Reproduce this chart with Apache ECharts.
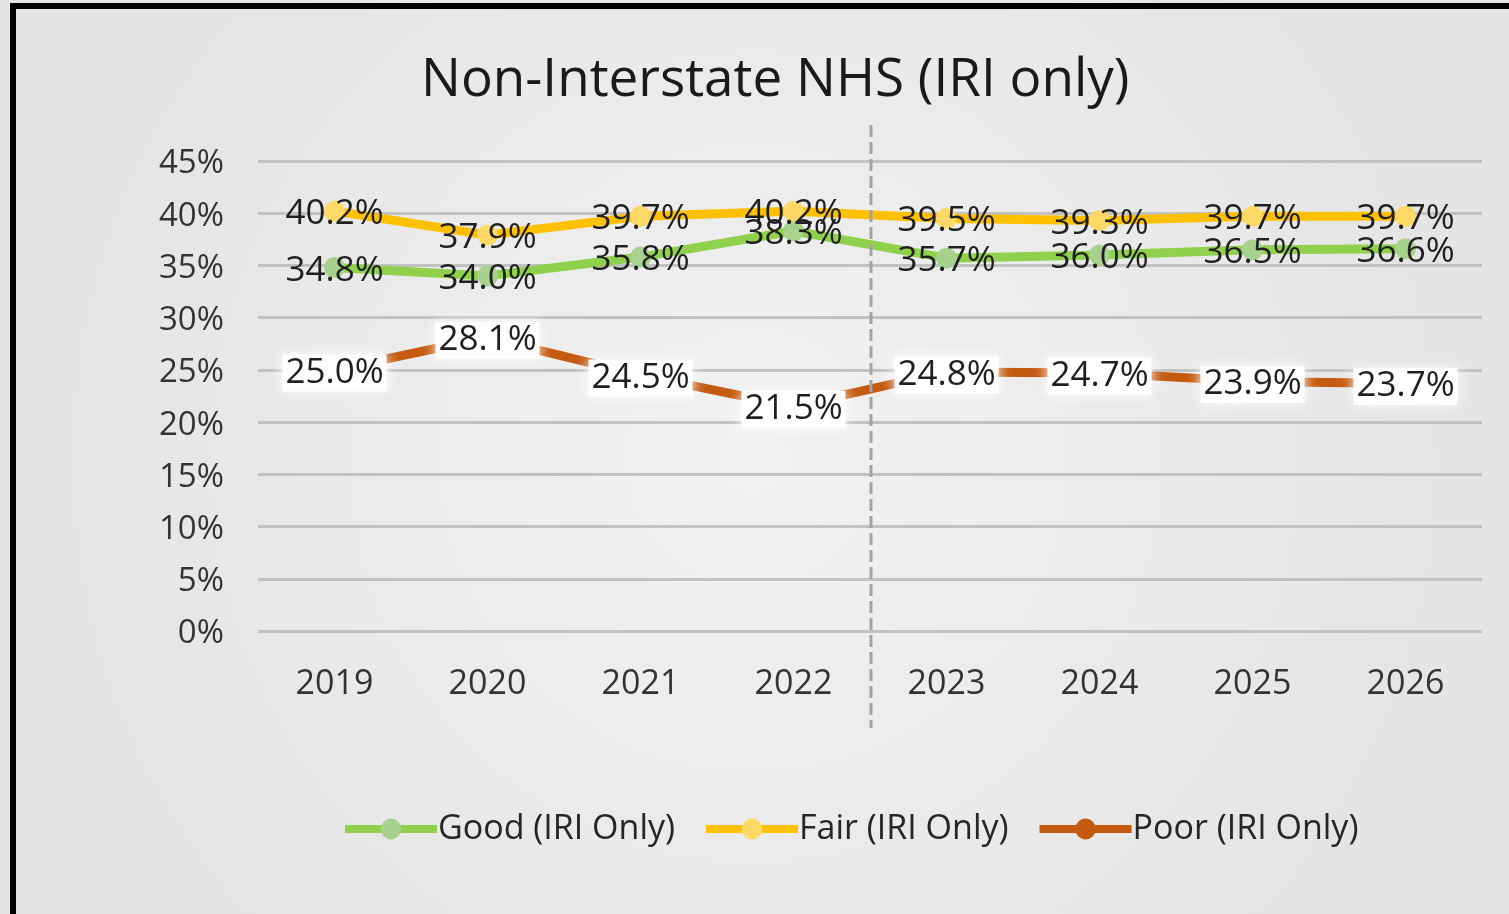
<!DOCTYPE html>
<html>
<head>
<meta charset="utf-8">
<title>Non-Interstate NHS (IRI only)</title>
<script src="https://cdn.jsdelivr.net/npm/echarts@6/dist/echarts.min.js"></script>
<style>
  html, body { margin: 0; padding: 0; background: #e9e9e9; }
  #chart { position: absolute; left: 0; top: 0; width: 1509px; height: 914px; }
  #frame {
    position: absolute; left: 10px; top: 3px; width: 1499px; height: 908px;
    border-top: 6px solid #000; border-left: 6px solid #000; border-bottom: 2px solid #9a9a9a;
    pointer-events: none;
  }
</style>
</head>
<body>
<div id="chart"></div>
<div id="frame"></div>
<script>
// chart data
const years = ['2019', '2020', '2021', '2022', '2023', '2024', '2025', '2026']
const good = [34.8, 34.0, 35.8, 38.3, 35.7, 36.0, 36.5, 36.6]
const fair = [40.2, 37.9, 39.7, 40.2, 39.5, 39.3, 39.7, 39.7]
const poor = [25.0, 28.1, 24.5, 21.5, 24.8, 24.7, 23.9, 23.7]
const seriesNames = ['Good (IRI Only)', 'Fair (IRI Only)', 'Poor (IRI Only)']

const font = '"Open Sans", "Noto Sans", sans-serif'
const chart = echarts.init(document.getElementById('chart'))

const pct = p => p.value.toFixed(1) + '%'

function lineSeries(name, data, lineColor, dotColor, glow) {
  const label = {
    show: true,
    position: 'inside',
    offset: [0, 3],
    formatter: pct,
    fontFamily: font,
    fontSize: 35,
    color: '#1f1f1f'
  }
  if (glow) {
    // poor labels sit on a soft white patch
    Object.assign(label, {
      backgroundColor: 'rgba(255,255,255,0.95)',
      padding: [2, 3, 0, 3],
      shadowBlur: 12,
      shadowColor: '#fff'
    })
  }
  return {
    name: name,
    type: 'line',
    data: data,
    symbol: 'circle',
    symbolSize: 21,
    itemStyle: { color: dotColor },
    lineStyle: { color: lineColor, width: 9 },
    label: label,
    animation: false
  }
}

chart.setOption({
  backgroundColor: {
    type: 'radial',
    x: 0.5,
    y: 0.5,
    r: 0.75,
    colorStops: [
      { offset: 0, color: '#f2f2f2' },
      { offset: 1, color: '#e5e5e5' }
    ]
  },
  title: {
    text: 'Non-Interstate NHS (IRI only)',
    left: 416,
    top: 49,
    textStyle: {
      fontFamily: font,
      fontSize: 53,
      fontWeight: 'normal',
      color: '#1a1a1a'
    }
  },
  grid: {
    left: 258,
    right: 27,
    top: 161,
    bottom: 283
  },
  xAxis: {
    type: 'category',
    data: years,
    boundaryGap: true,
    axisLine: { show: false },
    axisTick: { show: false },
    axisLabel: {
      margin: 36,
      fontFamily: font,
      fontSize: 34,
      color: '#333'
    }
  },
  yAxis: {
    type: 'value',
    min: 0,
    max: 45,
    interval: 5,
    axisLine: { show: false },
    axisTick: { show: false },
    axisLabel: {
      margin: 34,
      formatter: '{t|{value}%}',
      rich: {
        t: {
          padding: [6, 0, 0, 0],
          fontFamily: font,
          fontSize: 33,
          color: '#333'
        }
      }
    },
    splitLine: {
      lineStyle: { color: '#c2c2c2', width: 3 }
    }
  },
  legend: {
    data: seriesNames,
    left: 336,
    top: 807,
    itemWidth: 92,
    itemHeight: 26,
    itemGap: 27,
    lineStyle: { width: 8 },
    textStyle: {
      fontFamily: font,
      fontSize: 34,
      color: '#262626',
      padding: [0, 0, 0, -4]
    }
  },
  series: [
    lineSeries(seriesNames[0], good, '#8fd04c', '#a9d18e', false),
    lineSeries(seriesNames[1], fair, '#ffc000', '#ffd966', false),
    lineSeries(seriesNames[2], poor, '#c55a11', '#c55a11', true)
  ]
})

// dashed divider between actual (2019-2022) and target (2023-2026) years
const xa = chart.convertToPixel({ xAxisIndex: 0 }, '2022')
const xb = chart.convertToPixel({ xAxisIndex: 0 }, '2023')
const yTop = chart.convertToPixel({ yAxisIndex: 0 }, 45)
const yBottom = chart.convertToPixel({ yAxisIndex: 0 }, 0)
const xMid = (xa + xb) / 2 + 1
chart.setOption({
  graphic: [{
    type: 'line',
    z: 100,
    shape: { x1: xMid, y1: yTop - 36, x2: xMid, y2: yBottom + 97 },
    style: { stroke: '#a3a3a3', lineWidth: 3, lineDash: [12, 5] }
  }]
})
</script>
</body>
</html>
